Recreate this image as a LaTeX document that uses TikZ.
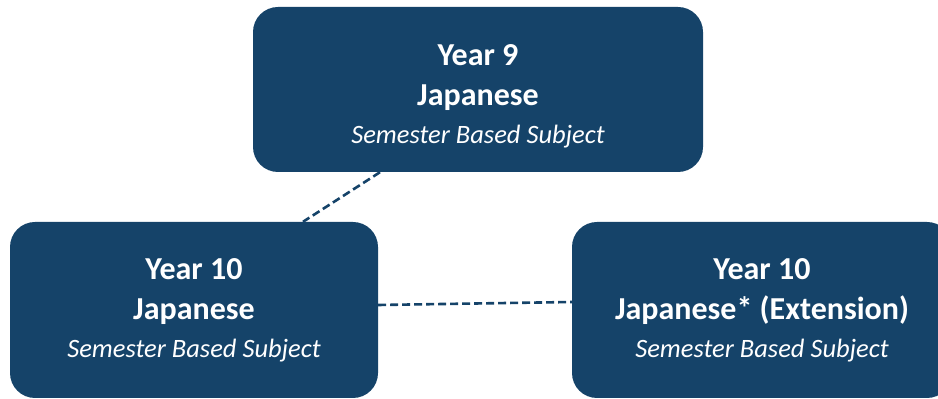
\documentclass[tikz,border=0pt]{standalone}
\usepackage{fontspec}
\setmainfont{Carlito}
\usepackage{tikz}
\usetikzlibrary{positioning}
\definecolor{navy}{HTML}{154369}
\newcommand{\semester}{{\mdseries\itshape\fontsize{26.5}{40}\selectfont Semester Based Subject}}

\begin{document}
\begin{tikzpicture}[x=1pt, y=1pt,
    subject/.style={fill=navy, rounded corners=25pt, text=white, align=center,
      font=\fontsize{32}{40}\selectfont\bfseries},
    link/.style={draw=navy, line width=2.6pt, dash pattern=on 8pt off 4pt}]
  \useasboundingbox (0,0) rectangle (938,399);
  \clip (0,0) rectangle (938,399);
  \node[subject, minimum width=450pt, minimum height=165pt] (y9) at (478,309.5)
    {\rule{0pt}{35pt}Year 9\\ Japanese\\[-2pt] \semester};
  \node[subject, minimum width=368pt, minimum height=176pt] (y10) at (194,89)
    {Year 10\\ Japanese\\[-2pt] \semester};
  \node[subject, minimum width=380pt, minimum height=176pt] (ext) at (762,89)
    {Year 10\\ Japanese* (Extension)\\[-2pt] \semester};
  \draw[link] ([xshift=-98pt]y9.south) -- ([xshift=109pt]y10.north);
  \draw[link] ([yshift=5pt]y10.east) -- ([yshift=8pt]ext.west);
\end{tikzpicture}
\end{document}
